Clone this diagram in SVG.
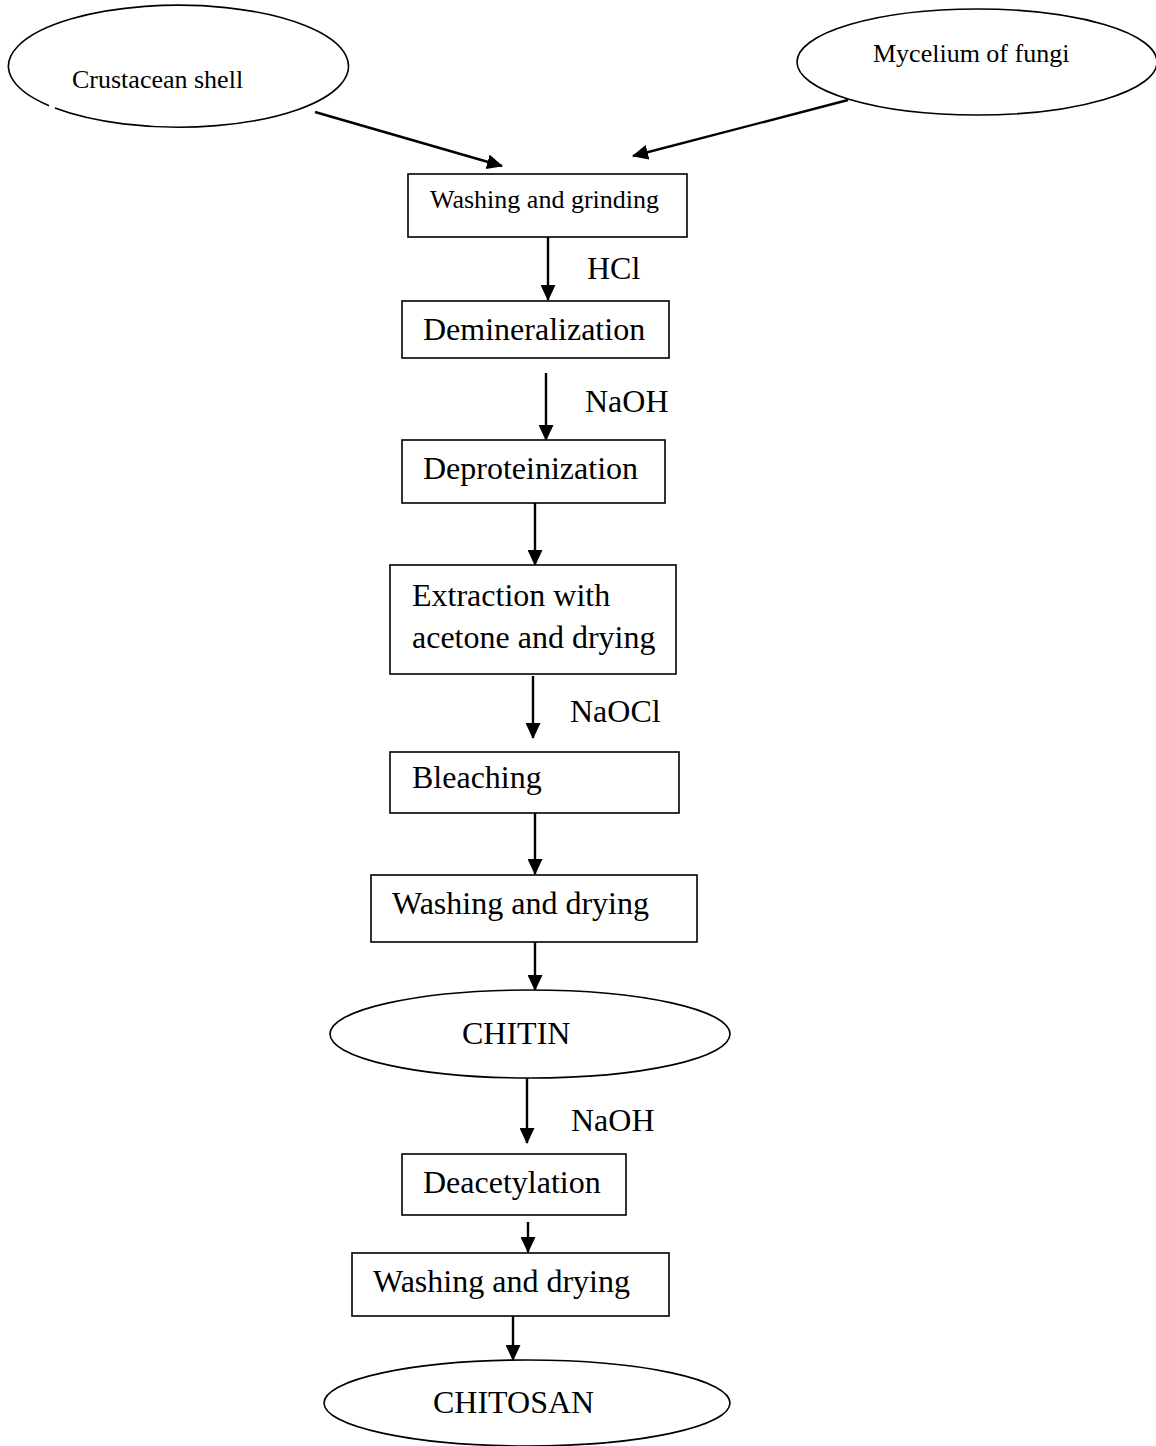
<svg xmlns="http://www.w3.org/2000/svg" width="1156" height="1446" viewBox="0 0 1156 1446">
<style>
.shape{fill:#fff;stroke:#000;stroke-width:1.6}
.t{font-family:"Liberation Serif","Times New Roman",serif;fill:#000}
.s{font-size:26px}
.b{font-size:32px}
.c{stroke:#000;stroke-width:2.4;fill:none}
</style>
<defs>
<marker id="ah" markerUnits="userSpaceOnUse" markerWidth="16" markerHeight="15" refX="15" refY="7.5" orient="auto" viewBox="0 0 16 15">
<path d="M0,0 L16,7.5 L0,15 Z" fill="#000"/>
</marker>
</defs>
<rect width="1156" height="1446" fill="#fff"/>
<g id="connectors">
<line class="c" x1="315" y1="112" x2="502" y2="166" marker-end="url(#ah)"/>
<line class="c" x1="848" y1="100" x2="633" y2="156" marker-end="url(#ah)"/>
<line class="c" x1="548" y1="237" x2="548" y2="300" marker-end="url(#ah)"/>
<line class="c" x1="546" y1="373" x2="546" y2="440" marker-end="url(#ah)"/>
<line class="c" x1="535" y1="503" x2="535" y2="565" marker-end="url(#ah)"/>
<line class="c" x1="533" y1="676" x2="533" y2="738" marker-end="url(#ah)"/>
<line class="c" x1="535" y1="813" x2="535" y2="874" marker-end="url(#ah)"/>
<line class="c" x1="535" y1="942" x2="535" y2="990" marker-end="url(#ah)"/>
<line class="c" x1="527" y1="1078" x2="527" y2="1143" marker-end="url(#ah)"/>
<line class="c" x1="528" y1="1222" x2="528" y2="1252" marker-end="url(#ah)"/>
<line class="c" x1="513" y1="1316" x2="513" y2="1360" marker-end="url(#ah)"/>
<text class="t b" x="587" y="279">HCl</text>
<text class="t b" x="585" y="412">NaOH</text>
<text class="t b" x="570" y="722">NaOCl</text>
<text class="t b" x="571" y="1131">NaOH</text>
</g>
<g id="crustacean">
<path class="shape" d="M49,105.7 A170,61 0 1 1 55,108.1"/>
<text class="t s" x="72" y="88">Crustacean shell</text>
</g>
<g id="mycelium">
<ellipse class="shape" cx="977" cy="62" rx="180" ry="53"/>
<text class="t s" x="873" y="62">Mycelium of fungi</text>
</g>
<g id="washing-grinding">
<rect class="shape" x="408" y="174" width="279" height="63"/>
<text class="t s" x="430" y="208">Washing and grinding</text>
</g>
<g id="demineralization">
<rect class="shape" x="402" y="301" width="267" height="57"/>
<text class="t b" x="423" y="340">Demineralization</text>
</g>
<g id="deproteinization">
<rect class="shape" x="402" y="440" width="263" height="63"/>
<text class="t b" x="423" y="479">Deproteinization</text>
</g>
<g id="extraction">
<rect class="shape" x="390" y="565" width="286" height="109"/>
<text class="t b" x="412" y="606">Extraction with</text>
<text class="t b" x="412" y="648">acetone and drying</text>
</g>
<g id="bleaching">
<rect class="shape" x="390" y="752" width="289" height="61"/>
<text class="t b" x="412" y="788">Bleaching</text>
</g>
<g id="washing-drying-1">
<rect class="shape" x="371" y="875" width="326" height="67"/>
<text class="t b" x="392" y="914">Washing and drying</text>
</g>
<g id="chitin">
<ellipse class="shape" cx="530" cy="1034" rx="200" ry="44"/>
<text class="t b" x="462" y="1044">CHITIN</text>
</g>
<g id="deacetylation">
<rect class="shape" x="402" y="1154" width="224" height="61"/>
<text class="t b" x="423" y="1193">Deacetylation</text>
</g>
<g id="washing-drying-2">
<rect class="shape" x="352" y="1253" width="317" height="63"/>
<text class="t b" x="373" y="1292">Washing and drying</text>
</g>
<g id="chitosan">
<ellipse class="shape" cx="527" cy="1403" rx="203" ry="43"/>
<text class="t b" x="433" y="1413">CHITOSAN</text>
</g>
</svg>
